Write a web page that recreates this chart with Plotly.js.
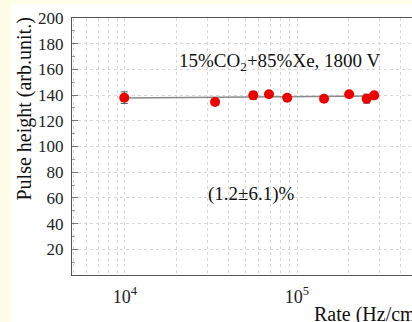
<!DOCTYPE html>
<html>
<head>
<meta charset="utf-8">
<script src="https://cdn.plot.ly/plotly-3.0.1.min.js"></script>
<style>
html,body{margin:0;padding:0;background:#fffde6;overflow:hidden;width:412px;height:322px;}
#chart{position:absolute;left:11px;top:4px;width:440px;height:330px;}
</style>
</head>
<body>
<div id="chart"></div>
<script>
// Data
const rate = [9900, 33400, 55700, 68700, 87700, 143600, 201000, 254000, 281000];
const pulseHeight = [138.0, 134.6, 139.8, 140.6, 138.0, 137.2, 140.6, 137.2, 139.8];
const pulseErr = [4.5, 2.5, 3.0, 0, 0, 0, 0, 3.5, 0];
const fitX = [9900, 281000];
const fitY = [137.8, 139.3];
const yTicks = [20, 40, 60, 80, 100, 120, 140, 160, 180, 200];
const xGridVals = [5000, 6000, 7000, 8000, 9000, 10000, 20000, 30000, 40000, 50000, 60000, 70000, 80000, 90000, 100000, 200000, 300000, 400000, 500000];
const xGridText = ['', '', '', '', '', '10<sup>4</sup>', '', '', '', '', '', '', '', '', '10<sup>5</sup>', '', '', '', ''];

const font = 'Liberation Serif';

const traces = [
  {
    x: fitX, y: fitY, type: 'scatter', mode: 'lines',
    line: {color: '#8a8a8a', width: 1.5}, hoverinfo: 'skip', showlegend: false
  },
  {
    x: rate, y: pulseHeight, type: 'scatter', mode: 'markers',
    marker: {color: '#ee0000', size: 10},
    error_y: {type: 'data', array: pulseErr, visible: true, color: '#555', thickness: 1, width: 3.5},
    showlegend: false
  }
];

const layout = {
  width: 440, height: 330,
  margin: {l: 61, r: 26, t: 14, b: 59},
  paper_bgcolor: '#ffffff', plot_bgcolor: '#ffffff',
  font: {family: font, size: 17, color: '#222'},
  xaxis: {
    type: 'log', range: [Math.log10(4920), 5.744],
    tickvals: xGridVals, ticktext: xGridText,
    showgrid: true, gridcolor: '#d8d8d8', griddash: 'dot', gridwidth: 1,
    showline: true, linecolor: '#555', linewidth: 1, mirror: true,
    ticks: '', zeroline: false,
    tickfont: {family: font, size: 18, color: '#222'},
    ticklabelstandoff: 5
  },
  yaxis: {
    range: [0, 200], tickvals: yTicks,
    showgrid: true, gridcolor: '#d8d8d8', griddash: 'dot', gridwidth: 1,
    showline: true, linecolor: '#555', linewidth: 1, mirror: true,
    ticks: 'inside', ticklen: 6, tickcolor: '#777',
    minor: {ticks: 'inside', ticklen: 3, tickcolor: '#999', dtick: 10, showgrid: false},
    zeroline: false,
    tickfont: {family: font, size: 17, color: '#222'},
    ticklabelstandoff: 4
  },
  annotations: [
    {text: '15%CO<sub>2</sub>+85%Xe, 1800 V', xref: 'x', yref: 'y', x: Math.log10(78600), y: 166,
     showarrow: false, xanchor: 'center', yanchor: 'middle', font: {family: font, size: 19, color: '#111'}},
    {text: '(1.2\u00b16.1)%', xref: 'x', yref: 'y', x: Math.log10(54100), y: 63,
     showarrow: false, xanchor: 'center', yanchor: 'middle', font: {family: font, size: 19, color: '#111'}},
    {text: 'Pulse height (arb.unit.)', xref: 'paper', yref: 'paper', x: 0, y: 1,
     xanchor: 'center', yanchor: 'top', xshift: -48, yshift: 2, textangle: -90,
     showarrow: false, font: {family: font, size: 20, color: '#111'}},
    {text: 'Rate (Hz/cm<sup>2</sup>)', xref: 'paper', yref: 'paper', x: (312 - 72) / (425 - 72), y: 0,
     xanchor: 'left', yanchor: 'top', yshift: -24,
     showarrow: false, font: {family: font, size: 20, color: '#111'}}
  ]
};

Plotly.newPlot('chart', traces, layout, {displayModeBar: false, staticPlot: true});
</script>
</body>
</html>
